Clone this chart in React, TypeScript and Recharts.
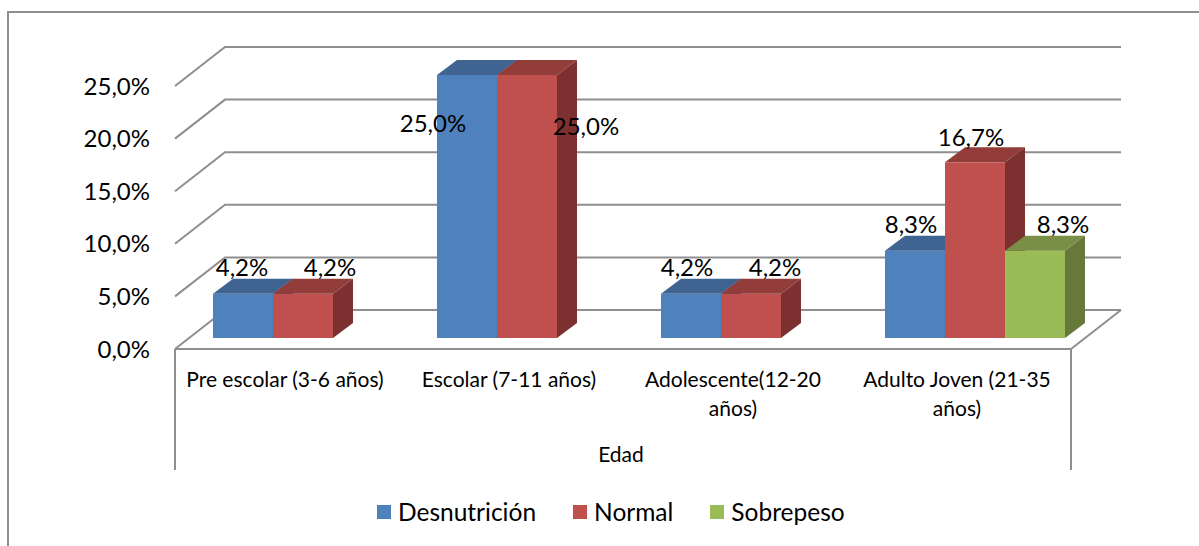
import React from 'react';
import { BarChart, Bar, XAxis, YAxis, CartesianGrid, Legend, LabelList } from 'recharts';

const categories = ['Pre escolar (3-6 años)', 'Escolar (7-11 años)', 'Adolescente(12-20 años)', 'Adulto Joven (21-35 años)'];
const desnutricion = [4.2, 25.0, 4.2, 8.3];
const normal = [4.2, 25.0, 4.2, 16.7];
const sobrepeso = [null, null, null, 8.3];
const yTicks = [0, 5, 10, 15, 20, 25];

const data = categories.map((name, i) => ({
  name,
  Desnutrición: desnutricion[i],
  Normal: normal[i],
  Sobrepeso: sobrepeso[i],
}));

const FONT = 'Lato, Carlito, Calibri, sans-serif';
const GRID = '#8f8f8f';

// 3D look: wall sits behind the front plane, bars stand in the middle of the floor
const WALL_X = 50;
const WALL_Y = 39;
const BAR_SHIFT_X = 16;
const BAR_SHIFT_Y = 11;
const DEPTH_X = 20;
const DEPTH_Y = 15;
const AXIS_DROP = 121;

// label nudges from the top centre of each bar (null bars get no label, so Sobrepeso has one entry)
const labelNudge: Record<string, [number, number][]> = {
  Desnutrición: [[-1, -27], [-34, 47], [-4, -27], [-4, -27]],
  Normal: [[27, -27], [59, 50], [24, -27], [-4, -26]],
  Sobrepeso: [[28, -27]],
};

function GridLine(props: any) {
  const { x1, x2, y1, index } = props;
  const isFloor = y1 > 340;
  return (
    <g key={index} stroke={GRID} strokeWidth={2} fill="none">
      <polyline points={`${x1},${y1} ${x1 + WALL_X},${y1 - WALL_Y} ${x2 + WALL_X},${y1 - WALL_Y}`} />
      {isFloor && (
        <>
          <line x1={x1} y1={y1} x2={x2} y2={y1} />
          <line x1={x2} y1={y1} x2={x2 + WALL_X} y2={y1 - WALL_Y} />
          <line x1={x1} y1={y1} x2={x1} y2={y1 + AXIS_DROP} />
          <line x1={x2} y1={y1} x2={x2} y2={y1 + AXIS_DROP} />
        </>
      )}
    </g>
  );
}

function Box3D(props: any) {
  const { x, y, width, height, fill, top, side } = props;
  if (!height) return null;
  const l = x + BAR_SHIFT_X;
  const t = y - BAR_SHIFT_Y;
  const r = l + width;
  const b = t + height;
  return (
    <g>
      <rect x={l} y={t} width={width} height={height} fill={fill} />
      <polygon points={`${l},${t} ${l + DEPTH_X},${t - DEPTH_Y} ${r + DEPTH_X},${t - DEPTH_Y} ${r},${t}`} fill={top} />
      <polygon points={`${r},${t} ${r + DEPTH_X},${t - DEPTH_Y} ${r + DEPTH_X},${b - DEPTH_Y} ${r},${b}`} fill={side} />
    </g>
  );
}

const barLabel = (series: string) => (props: any) => {
  const { x, y, width, value, index } = props;
  if (value == null) return null;
  const [dx, dy] = labelNudge[series][index];
  return (
    <text
      x={x + BAR_SHIFT_X + width / 2 + dx}
      y={y - BAR_SHIFT_Y + dy}
      textAnchor="middle"
      dominantBaseline="central"
      fontSize={24}
      fontFamily={FONT}
      fill="#000"
    >
      {String(value.toFixed(1)).replace('.', ',')}%
    </text>
  );
};

function wrapLabel(text: string) {
  if (text.length <= 22) return [text];
  const cut = text.lastIndexOf(' ');
  return [text.slice(0, cut), text.slice(cut + 1)];
}

function CategoryTick({ x, y, payload }: any) {
  const lines = wrapLabel(String(payload.value));
  const cx = x - 2;
  return (
    <text x={cx} y={y} textAnchor="middle" fontSize={21} fontFamily={FONT} fill="#000">
      {lines.map((line, i) => (
        <tspan key={line} x={cx} y={y + 30 + i * 29}>
          {line}
        </tspan>
      ))}
    </text>
  );
}

function LegendRow({ payload }: any) {
  return (
    <div style={{ display: 'flex', fontFamily: FONT, fontSize: 24.5, color: '#000', lineHeight: '28px' }}>
      {payload.map((item: any) => (
        <div key={item.value} style={{ display: 'flex', alignItems: 'center', marginRight: 37 }}>
          <span style={{ width: 14, height: 14, background: item.color, marginRight: 7 }} />
          {item.value}
        </div>
      ))}
    </div>
  );
}

export default function App() {
  return (
    <div style={{ position: 'absolute', left: 0, top: 0, width: 1199, height: 546, background: '#fff', overflow: 'hidden' }}>
      {/* chart frame: only top and left edges are inside the crop */}
      <div style={{ position: 'absolute', left: 7, top: 11, width: 1300, height: 600, borderTop: '2px solid #8f8f8f', borderLeft: '2px solid #8f8f8f' }} />
      <BarChart
        width={1199}
        height={546}
        data={data}
        barSize={60}
        barGap={0}
        margin={{ top: 86, right: 128, bottom: 76, left: 90 }}
        style={{ position: 'absolute', left: 0, top: 0 }}
      >
        <CartesianGrid vertical={false} horizontal={GridLine} />
        <XAxis
          dataKey="name"
          height={121}
          axisLine={false}
          tickLine={false}
          interval={0}
          tick={CategoryTick}
          label={{ value: 'Edad', position: 'insideBottom', offset: 8, dx: -2, fontSize: 21, fontFamily: FONT, fill: '#000' }}
        />
        <YAxis
          width={85}
          domain={[0, 25]}
          ticks={yTicks}
          axisLine={false}
          tickLine={false}
          tickMargin={19}
          tick={{ fontSize: 24, fontFamily: FONT, fill: '#000' }}
          tickFormatter={(v: number) => `${v.toFixed(1).replace('.', ',')}%`}
        />
        <Legend
          layout="horizontal"
          verticalAlign="middle"
          align="center"
          content={LegendRow}
          wrapperStyle={{ left: 377, top: 498, width: 500 }}
        />
        <Bar dataKey="Desnutrición" fill="#4f81bd" isAnimationActive={false} shape={<Box3D top="#3f6491" side="#35567e" />}>
          <LabelList dataKey="Desnutrición" content={barLabel('Desnutrición')} />
        </Bar>
        <Bar dataKey="Normal" fill="#c0504d" isAnimationActive={false} shape={<Box3D top="#933d3a" side="#7c3130" />}>
          <LabelList dataKey="Normal" content={barLabel('Normal')} />
        </Bar>
        <Bar dataKey="Sobrepeso" fill="#9bbb59" isAnimationActive={false} shape={<Box3D top="#788f45" side="#67793a" />}>
          <LabelList dataKey="Sobrepeso" content={barLabel('Sobrepeso')} />
        </Bar>
      </BarChart>
    </div>
  );
}
